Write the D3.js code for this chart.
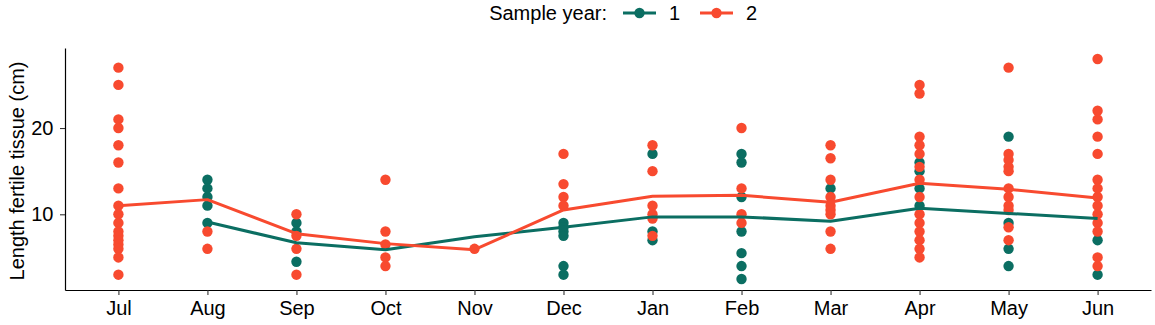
<!DOCTYPE html>
<html>
<head>
<meta charset="utf-8">
<script src="https://cdn.jsdelivr.net/npm/d3@7"></script>
<style>
    body { margin: 0; background: #fff; }
    text { font-family: "Liberation Sans", Arial, sans-serif; }
</style>
</head>
<body>
<svg id="chart" width="1155" height="325"></svg>
<script>
var months = ["Jul", "Aug", "Sep", "Oct", "Nov", "Dec", "Jan", "Feb", "Mar", "Apr", "May", "Jun"];
var years = ["1", "2"];
var yTicks = [10, 20];

// individual measurements, per month, sample year 1
var year1Points = [
    [],
    [14, 13, 12, 11, 9],
    [9, 8, 4.5],
    [],
    [],
    [9, 8.5, 8, 7.5, 4, 3],
    [17, 8, 7],
    [17, 16, 12, 8, 5.5, 4, 2.5],
    [13],
    [16, 15, 13, 11],
    [19, 9, 6, 4],
    [7, 3]
];

// individual measurements, per month, sample year 2
var year2Points = [
    [27, 25, 21, 20, 18, 16, 13, 11, 10, 9, 8, 7.5, 7, 6.5, 6, 5, 3],
    [8, 6],
    [10, 7.5, 6, 3],
    [14, 8, 6.5, 5, 4],
    [6],
    [17, 13.5, 12, 11],
    [18, 15, 11, 10, 9.5, 7.5],
    [20, 13, 10, 9],
    [18, 16.5, 14, 12, 11, 10.5, 10, 8, 6],
    [25, 24, 19, 18, 17, 15.5, 14, 12, 10, 9, 8, 7, 6, 5],
    [27, 17, 16.3, 15.5, 15, 13, 12, 11, 10.5, 8.5, 7],
    [28, 22, 21, 19, 17, 14, 13, 12, 11, 10, 9, 8, 5, 4]
];

// fitted line per month
var year1Line = [null, 9.1, 6.7, 5.9, 7.4, 8.5, 9.7, 9.7, 9.2, 10.7, 10.1, 9.5];
var year2Line = [11.0, 11.7, 7.75, 6.6, 5.9, 10.5, 12.1, 12.2, 11.4, 13.6, 12.9, 11.9];

var colors = {"1": "#0b6e62", "2": "#f84a2f"};

function drawChart() {
    var svg = d3.select("#chart");
    var left = 65, right = 1151, top = 48, bottom = 290;

    var x = d3.scalePoint().domain(months).range([left, right]).padding(0.6);
    var y = d3.scaleLinear().domain([1.225, 29.275]).range([bottom, top]);

    // axes
    var xAxis = svg.append("g")
        .attr("transform", "translate(0," + bottom + ")")
        .call(d3.axisBottom(x).tickSize(5).tickPadding(6).tickSizeOuter(0));
    var yAxis = svg.append("g")
        .attr("transform", "translate(" + left + ",0)")
        .call(d3.axisLeft(y).tickValues(yTicks).tickSize(5).tickPadding(6.5).tickSizeOuter(0));

    [xAxis, yAxis].forEach(function(ax) {
        ax.select(".domain").attr("stroke", "#000").attr("stroke-width", 1.2);
        ax.selectAll(".tick line").attr("stroke", "#333").attr("stroke-width", 1.1);
        ax.selectAll(".tick text").attr("fill", "#000").style("font-size", "20px");
    });

    svg.append("text")
        .attr("transform", "translate(24,171) rotate(-90)")
        .attr("text-anchor", "middle")
        .style("font-size", "20px")
        .text("Length fertile tissue (cm)");

    // points
    var pointSets = [["1", year1Points], ["2", year2Points]];
    pointSets.forEach(function(set) {
        var flat = [];
        set[1].forEach(function(vals, i) {
            vals.forEach(function(v) { flat.push({month: months[i], value: v}); });
        });
        svg.append("g").selectAll("circle")
            .data(flat)
            .enter().append("circle")
            .attr("cx", function(d) { return x(d.month); })
            .attr("cy", function(d) { return y(d.value); })
            .attr("r", 5.2)
            .attr("fill", colors[set[0]]);
    });

    // lines
    var line = d3.line()
        .defined(function(d) { return d != null; })
        .x(function(d, i) { return x(months[i]); })
        .y(function(d) { return y(d); });

    [["1", year1Line], ["2", year2Line]].forEach(function(set) {
        svg.append("path")
            .attr("d", line(set[1]))
            .attr("fill", "none")
            .attr("stroke", colors[set[0]])
            .attr("stroke-width", 3)
            .attr("stroke-linejoin", "round");
    });

    // legend
    var legend = svg.append("g").attr("transform", "translate(0,13)");
    legend.append("text")
        .attr("x", 607).attr("y", 0).attr("dy", "0.35em")
        .attr("text-anchor", "end")
        .style("font-size", "20px")
        .text("Sample year:");
    var keyX = [623, 700];
    years.forEach(function(yr, i) {
        legend.append("line")
            .attr("x1", keyX[i]).attr("x2", keyX[i] + 33)
            .attr("y1", 0).attr("y2", 0)
            .attr("stroke", colors[yr]).attr("stroke-width", 3);
        legend.append("circle")
            .attr("cx", keyX[i] + 16.5).attr("cy", 0).attr("r", 5.2)
            .attr("fill", colors[yr]);
        legend.append("text")
            .attr("x", keyX[i] + 46).attr("y", 0).attr("dy", "0.35em")
            .style("font-size", "20px")
            .text(yr);
    });
}

drawChart();
</script>
</body>
</html>
